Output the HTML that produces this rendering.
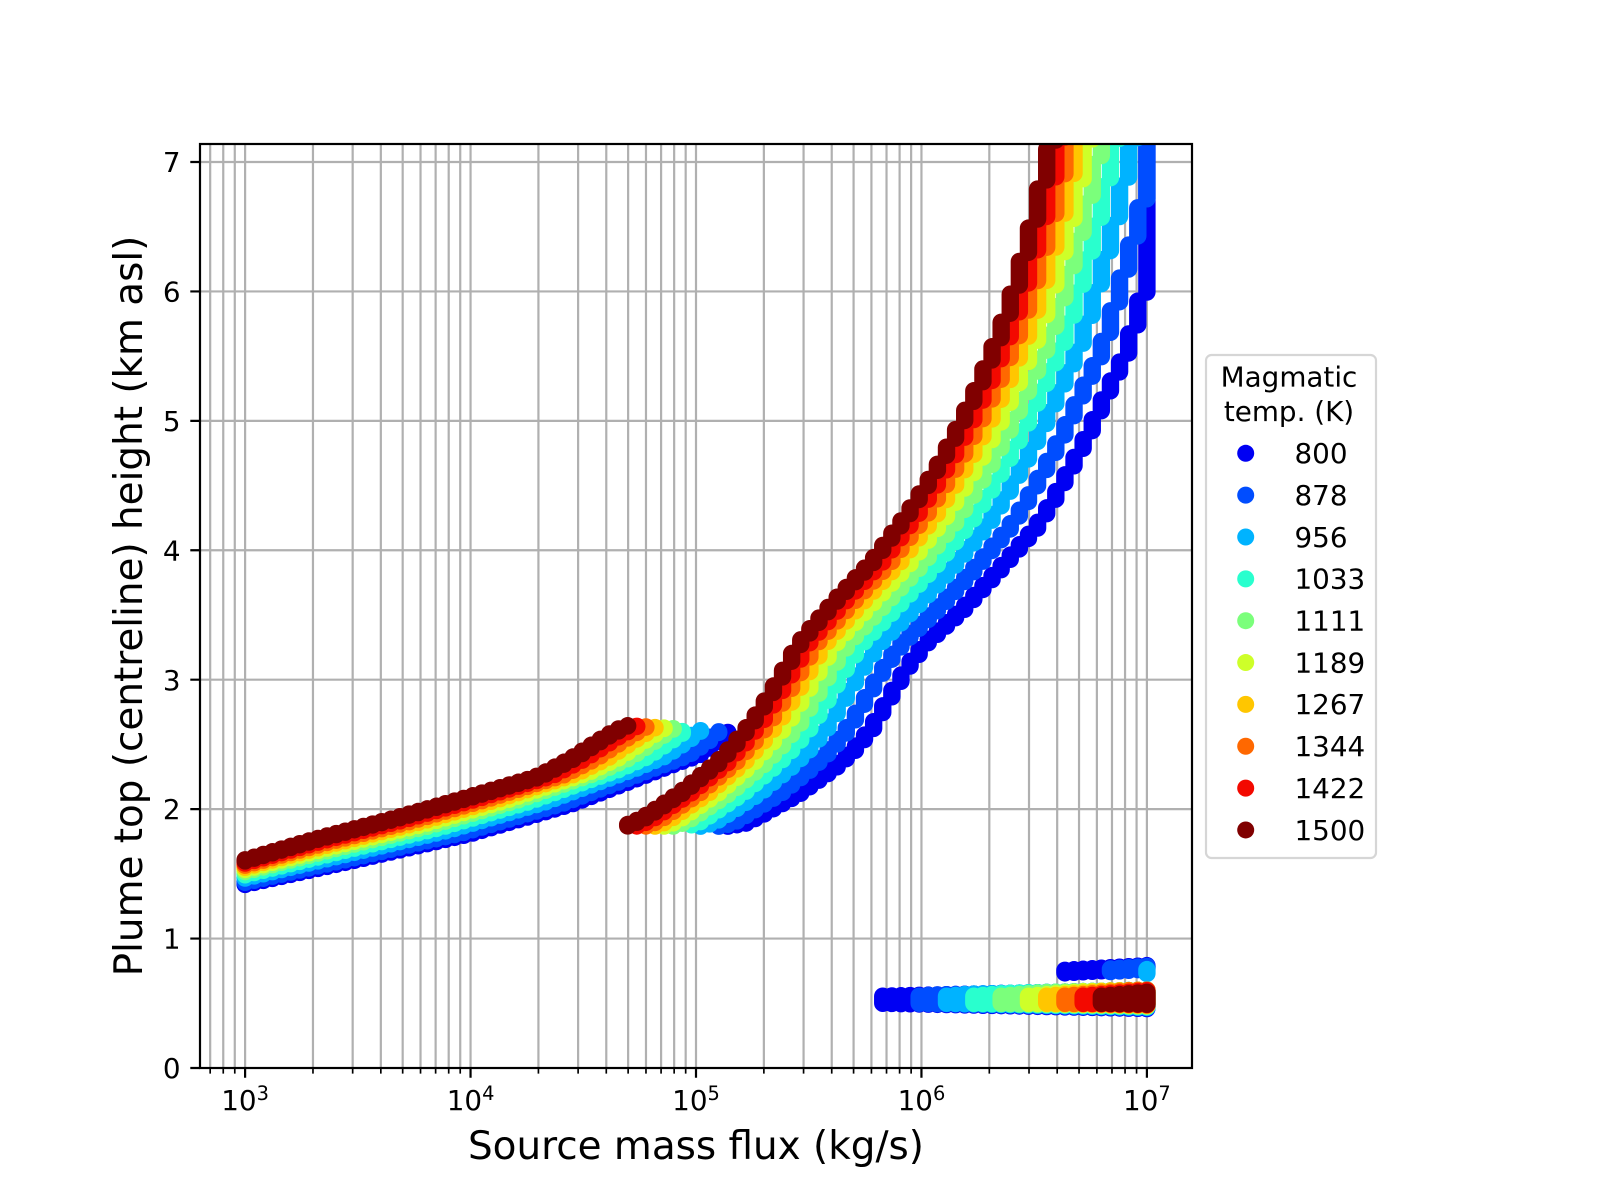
<!DOCTYPE html>
<html>
<head>
<meta charset="utf-8">
<style>
html,body{margin:0;padding:0;background:#fff;}
svg{display:block;}
text{font-family:"DejaVu Sans","Liberation Sans",sans-serif;fill:#000;}
</style>
</head>
<body>
<svg id="s" xmlns="http://www.w3.org/2000/svg" width="1600" height="1200" viewBox="0 0 1600 1200">
<defs><clipPath id="ax"><rect x="200" y="144" width="992" height="924"/></clipPath></defs>
<rect x="0" y="0" width="1600" height="1200" fill="#fff"/>
<!-- gridlines -->
<path fill="none" stroke="#b0b0b0" stroke-width="2.2" d="
M210.18 144V1068M223.25 144V1068M234.78 144V1068
M245.1 144V1068M312.97 144V1068M352.67 144V1068M380.83 144V1068M402.68 144V1068M420.53 144V1068M435.63 144V1068M448.7 144V1068M460.23 144V1068
M470.55 144V1068M538.42 144V1068M578.12 144V1068M606.28 144V1068M628.13 144V1068M645.98 144V1068M661.08 144V1068M674.15 144V1068M685.68 144V1068
M696 144V1068M763.87 144V1068M803.57 144V1068M831.73 144V1068M853.58 144V1068M871.43 144V1068M886.53 144V1068M899.6 144V1068M911.13 144V1068
M921.45 144V1068M989.32 144V1068M1029.02 144V1068M1057.18 144V1068M1079.03 144V1068M1096.88 144V1068M1111.98 144V1068M1125.05 144V1068M1136.58 144V1068
M1146.9 144V1068
M200 938.57H1192M200 809.14H1192M200 679.71H1192M200 550.28H1192M200 420.85H1192M200 291.42H1192M200 161.99H1192"/>
<g id="data" clip-path="url(#ax)"></g>
<!-- spines -->
<rect x="200" y="144" width="992" height="924" fill="none" stroke="#000" stroke-width="2.2"/>
<!-- major ticks -->
<path fill="none" stroke="#000" stroke-width="2.2" d="M245.1 1068V1077.7M470.55 1068V1077.7M696 1068V1077.7M921.45 1068V1077.7M1146.9 1068V1077.7
M200 1068H190.3M200 938.57H190.3M200 809.14H190.3M200 679.71H190.3M200 550.28H190.3M200 420.85H190.3M200 291.42H190.3M200 161.99H190.3"/>
<!-- minor x ticks -->
<path fill="none" stroke="#000" stroke-width="1.67" d="
M210.18 1068V1073.6M223.25 1068V1073.6M234.78 1068V1073.6
M312.97 1068V1073.6M352.67 1068V1073.6M380.83 1068V1073.6M402.68 1068V1073.6M420.53 1068V1073.6M435.63 1068V1073.6M448.7 1068V1073.6M460.23 1068V1073.6
M538.42 1068V1073.6M578.12 1068V1073.6M606.28 1068V1073.6M628.13 1068V1073.6M645.98 1068V1073.6M661.08 1068V1073.6M674.15 1068V1073.6M685.68 1068V1073.6
M763.87 1068V1073.6M803.57 1068V1073.6M831.73 1068V1073.6M853.58 1068V1073.6M871.43 1068V1073.6M886.53 1068V1073.6M899.6 1068V1073.6M911.13 1068V1073.6
M989.32 1068V1073.6M1029.02 1068V1073.6M1057.18 1068V1073.6M1079.03 1068V1073.6M1096.88 1068V1073.6M1111.98 1068V1073.6M1125.05 1068V1073.6M1136.58 1068V1073.6"/>
<!-- x tick labels -->
<g font-size="27.8" text-anchor="middle">
<text x="245.1" y="1110">10<tspan dy="-10" font-size="19.4">3</tspan></text>
<text x="470.55" y="1110">10<tspan dy="-10" font-size="19.4">4</tspan></text>
<text x="696" y="1110">10<tspan dy="-10" font-size="19.4">5</tspan></text>
<text x="921.45" y="1110">10<tspan dy="-10" font-size="19.4">6</tspan></text>
<text x="1146.9" y="1110">10<tspan dy="-10" font-size="19.4">7</tspan></text>
</g>
<!-- y tick labels -->
<g font-size="27.8" text-anchor="end">
<text x="180.6" y="1078.1">0</text>
<text x="180.6" y="948.7">1</text>
<text x="180.6" y="819.2">2</text>
<text x="180.6" y="689.8">3</text>
<text x="180.6" y="560.4">4</text>
<text x="180.6" y="430.9">5</text>
<text x="180.6" y="301.5">6</text>
<text x="180.6" y="172.1">7</text>
</g>
<!-- axis labels -->
<text x="696" y="1159" font-size="38.9" text-anchor="middle">Source mass flux (kg/s)</text>
<text transform="translate(142,606) rotate(-90)" font-size="38.9" text-anchor="middle">Plume top (centreline) height (km asl)</text>
<!-- legend -->
<rect x="1206" y="355" width="170" height="503" rx="5.5" ry="5.5" fill="#fff" stroke="#d6d6d6" stroke-width="2.2"/>
<g font-size="27.8">
<text x="1289" y="386.7" text-anchor="middle">Magmatic</text>
<text x="1289" y="421" text-anchor="middle">temp. (K)</text>
</g>
<g>
<circle cx="1245.7" cy="453.3" r="8.5" fill="#0000f3"/>
<circle cx="1245.7" cy="495.15" r="8.5" fill="#004dff"/>
<circle cx="1245.7" cy="537" r="8.5" fill="#00b3ff"/>
<circle cx="1245.7" cy="578.85" r="8.5" fill="#29ffce"/>
<circle cx="1245.7" cy="620.7" r="8.5" fill="#7bff7b"/>
<circle cx="1245.7" cy="662.55" r="8.5" fill="#ceff29"/>
<circle cx="1245.7" cy="704.4" r="8.5" fill="#ffc600"/>
<circle cx="1245.7" cy="746.25" r="8.5" fill="#ff6800"/>
<circle cx="1245.7" cy="788.1" r="8.5" fill="#f30900"/>
<circle cx="1245.7" cy="829.95" r="8.5" fill="#800000"/>
</g>
<g font-size="27.8">
<text x="1294.5" y="463.1">800</text>
<text x="1294.5" y="504.95">878</text>
<text x="1294.5" y="546.8">956</text>
<text x="1294.5" y="588.65">1033</text>
<text x="1294.5" y="630.5">1111</text>
<text x="1294.5" y="672.35">1189</text>
<text x="1294.5" y="714.2">1267</text>
<text x="1294.5" y="756.05">1344</text>
<text x="1294.5" y="797.9">1422</text>
<text x="1294.5" y="839.75">1500</text>
</g>
</svg>
<script>
(function(){
  var X=function(l){return 245.1+(l-3)*225.45;};
  var Y=function(h){return 1068-h*129.43;};
  var R=8.7;
  var cols=['#0000f3','#004dff','#00b3ff','#29ffce','#7bff7b','#ceff29','#ffc600','#ff6800','#f30900','#800000'];
  var wL=[0,0.09,0.27,0.41,0.545,0.636,0.727,0.818,0.909,1];
  var wU=[0,0.19,0.37,0.51,0.62,0.72,0.80,0.87,0.935,1];
  var LA=[[3.0,1.60],[3.33,1.77],[3.67,1.925],[4.0,2.09],[4.31,2.25],[4.46,2.39],[4.61,2.56],[4.70,2.646]];
  var LB=[[3.0,1.418],[3.5,1.61],[4.0,1.81],[4.45,2.04],[4.90,2.345],[5.018,2.42],[5.10,2.52],[5.149,2.60]];
  var UA=[[4.70,1.87],[4.746,1.905],[4.79,1.945],[4.95,2.135],[5.11,2.365],[5.19,2.52],[5.27,2.70],[5.35,2.92],[5.43,3.16],[5.47,3.29],[5.63,3.615],[5.79,3.91],[5.95,4.285],[6.03,4.50],[6.12,4.76],[6.20,5.03],[6.28,5.33],[6.36,5.67],[6.40,5.86],[6.44,6.08],[6.52,6.59],[6.60,7.2]];
  var UB=[[5.14,1.868],[5.22,1.89],[5.30,1.96],[5.467,2.125],[5.622,2.32],[5.703,2.446],[5.785,2.615],[5.866,2.86],[5.947,3.10],[6.029,3.284],[6.191,3.542],[6.354,3.851],[6.516,4.173],[6.595,4.392],[6.676,4.65],[6.753,4.907],[6.834,5.216],[6.923,5.538],[6.960,5.744],[6.997,5.976],[7.08,6.5],[7.16,7.1]];
  var ks=[70,74,77,80,83,86,88,90,92,94];
  function lerpPoly(A,B,wf){
    var P=[];
    for(var j=0;j<A.length;j++){
      var w=wf(j);
      P.push([B[j][0]+(A[j][0]-B[j][0])*w, B[j][1]+(A[j][1]-B[j][1])*w]);
    }
    return P;
  }
  function interp(P,x){
    if(x<=P[0][0]) return P[0][1];
    for(var j=1;j<P.length;j++){
      if(x<=P[j][0]){
        var t=(x-P[j-1][0])/(P[j][0]-P[j-1][0]);
        return P[j-1][1]+t*(P[j][1]-P[j-1][1]);
      }
    }
    var n=P.length;
    var t2=(x-P[n-2][0])/(P[n-1][0]-P[n-2][0]);
    return P[n-2][1]+t2*(P[n-1][1]-P[n-2][1]);
  }
  function gl(k){return 3+4*k/99;}
  var g=document.getElementById('data');
  var NS='http://www.w3.org/2000/svg';
  for(var i=0;i<10;i++){
    var d='';
    var seg=function(l,h1,h2){
      var x=X(l).toFixed(2);
      var y1=Y(h1), y2=Y(h2);
      if(Math.abs(y1-y2)<0.05) y2=y1-0.05;
      d+='M'+x+' '+y1.toFixed(2)+'L'+x+' '+y2.toFixed(2);
    };
    var k,l,h,hn;
    // left branch
    var wi=wL[i];
    var P=lerpPoly(LA,LB,function(){return wi;});
    var end=P[P.length-1][0];
    var hend=P[P.length-1][1];
    for(k=0;k<100;k++){
      l=gl(k);
      if(l>end+0.012) break;
      h=interp(P,l);
      hn=Math.min(interp(P,gl(k+1)),hend);
      var st=Math.max(0,hn-h);
      seg(l,h,h+0.4*st);
    }
    // upper branch
    var wli=wL[i], wui=wU[i];
    var Q=lerpPoly(UA,UB,function(j){return j>=4?wui:wli+(wui-wli)*j/4;});
    var s0=Q[0][0];
    for(k=0;k<100;k++){
      l=gl(k);
      if(l<s0-0.012) continue;
      h=interp(Q,l);
      if(h>7.4) break;
      hn=interp(Q,gl(k+1));
      var step=Math.max(0,hn-h);
      var sp=Math.max(0.4*step+Math.max(0,(h-6)*0.1), step-0.07);
      var top=(k==99)?7.6:h+sp;
      seg(l,h,top);
    }
    // bottom branch
    for(k=ks[i];k<100;k++){
      l=gl(k);
      var j=k-ks[i];
      var lo=0.50-0.0014*j;
      var hi=Math.min(0.555+0.006*j,0.555+0.0016*(k-70));
      seg(l,lo,Math.max(hi,lo));
    }
    // upper groups of bottom branch
    if(i==0){
      for(k=90;k<100;k++){var lo0=0.735+0.004*(k-90);seg(gl(k),lo0,lo0+0.02);}
    }else if(i==1){
      for(k=95;k<100;k++){var lo1=0.745+0.005*(k-95);seg(gl(k),lo1,lo1+0.02);}
    }else if(i==2){
      seg(gl(99),0.73,0.76);
    }
    var p=document.createElementNS(NS,'path');
    p.setAttribute('d',d);
    p.setAttribute('fill','none');
    p.setAttribute('stroke',cols[i]);
    p.setAttribute('stroke-width',(2*R).toFixed(2));
    p.setAttribute('stroke-linecap','round');
    g.appendChild(p);
  }
})();
</script>
</body>
</html>
